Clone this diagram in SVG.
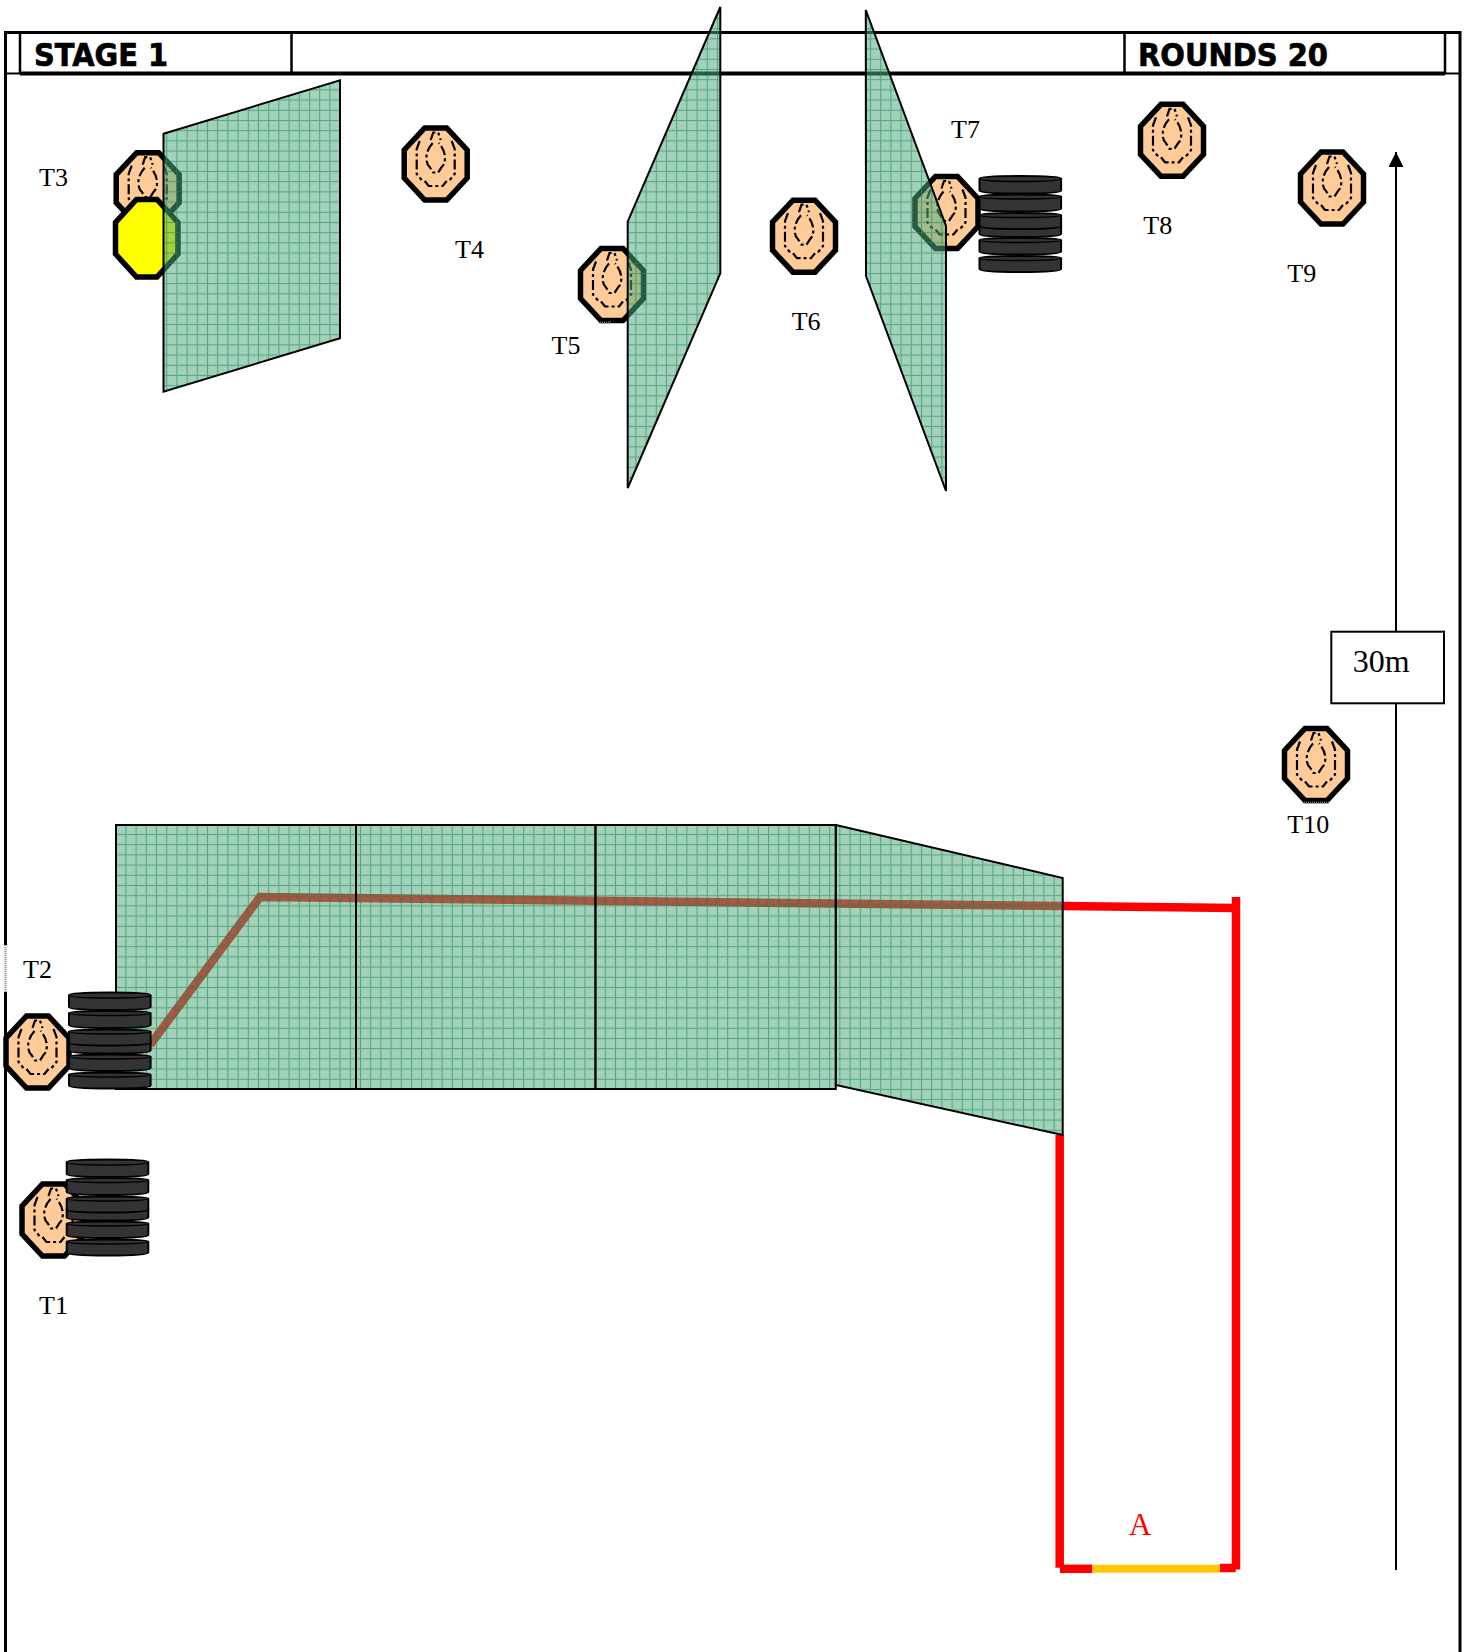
<svg xmlns="http://www.w3.org/2000/svg" width="1466" height="1652" viewBox="0 0 1466 1652">
<style>
.lbl{font-family:"Liberation Serif","Times New Roman",serif;font-size:26px;fill:#000}
.hdr{font-family:"DejaVu Sans",sans-serif;font-weight:700;font-size:32px;fill:#000;stroke:#000;stroke-width:0.7}
.panel{fill:url(#mesh);stroke:#000;stroke-width:2;stroke-linejoin:miter}
.oct{fill:#fc9;stroke:#000;stroke-width:5.5;stroke-linejoin:miter}
.dash{fill:none;stroke:#000;stroke-width:2.2;stroke-dasharray:10 3 3 3}
.tire{fill:#333;stroke:#000;stroke-width:2}
.fr{fill:none;stroke:#000}
.red{fill:none;stroke:#f00;stroke-width:8.5}
.spk{fill:none;stroke:#777;stroke-width:2;stroke-dasharray:1 1}
</style>
<defs>
<pattern id="check" width="2" height="2" patternUnits="userSpaceOnUse">
<rect width="1" height="1" fill="#fff" fill-opacity="0.12"/><rect x="1" y="1" width="1" height="1" fill="#fff" fill-opacity="0.12"/>
</pattern>
<pattern id="mesh" x="156" y="834" width="10.2" height="10.2" patternUnits="userSpaceOnUse">
<rect width="10.2" height="10.2" fill="#3ca06e" fill-opacity="0.5"/>
<rect x="2" y="2" width="7" height="7" fill="url(#check)"/>
<path d="M0.5 0V10.2M0 0.5H10.2" stroke="#2f9068" stroke-opacity="0.65" stroke-width="1" fill="none"/>
</pattern>
<g id="tgt">
<path class="oct" d="M-11-36H11L31.500-14V14L11 36H-11L-31.500 14V-14Z"/>
<path class="dash" d="M-5-24L-2.500-31.500H2.500L5-24" stroke-dasharray="none"/>
<path class="dash" d="M-3-21Q-9.300-14-9.300-6Q-9.300 0-6 3L-2.500 8.500H2.500L6 3Q9.300 0 9.300-6Q9.300-14 3-21"/>
<path class="dash" d="M-16-23L-19-15V4L-19 10L-14 16M16-23L19-15V4L19 10L14 16"/>
<path class="dash" d="M-11 17L-7 22H7L11 17" stroke-dasharray="none"/>
</g>
<g id="tires">
<path class="tire" d="M0 82Q0 80 40.800 80Q81.600 80 81.600 82V93Q81.600 96 40.800 96Q0 96 0 93Z"/>
<path class="tire" d="M0 64Q0 62 40.800 62Q81.600 62 81.600 64V75.500Q81.600 78.500 40.800 78.500Q0 78.500 0 75.500Z"/>
<path class="tire" d="M0 49Q0 47 40.800 47Q81.600 47 81.600 49V58Q81.600 61 40.800 61Q0 61 0 58Z"/>
<path class="tire" d="M0 39Q0 37 40.800 37Q81.600 37 81.600 39V50Q81.600 53 40.800 53Q0 53 0 50Z"/>
<path class="tire" d="M0 20.500Q0 18.500 40.800 18.500Q81.600 18.500 81.600 20.500V32.500Q81.600 35.500 40.800 35.500Q0 35.500 0 32.500Z"/>
<path class="tire" d="M0 2.500Q0 0 40.800 0Q81.600 0 81.600 2.500V14.500Q81.600 17.500 40.800 17.500Q0 17.500 0 14.500Z"/>
<path d="M0 2.500Q0 5.500 40.800 5.500Q81.600 5.500 81.600 2.500M0 20.500Q0 23 40.800 23Q81.600 23 81.600 20.500M0 39Q0 41.500 40.800 41.500Q81.600 41.500 81.600 39M0 64Q0 66.500 40.800 66.500Q81.600 66.500 81.600 64M0 82Q0 84.500 40.800 84.500Q81.600 84.500 81.600 82" fill="none" stroke="#000" stroke-width="1.600"/>
</g>
<marker id="tip" markerUnits="userSpaceOnUse" markerWidth="16" markerHeight="16" refX="15" refY="7.5" orient="auto">
<path d="M0 0L15 7.500L0 15Z" fill="#000"/>
</marker>
</defs>
<rect width="1466" height="1652" fill="#fff"/>

<g id="frame">
<path class="fr" stroke-width="3" d="M5.500 1652V32.500H1460V1652"/>
<path class="fr" stroke-width="4" d="M20 73.500H1445"/>
<path class="fr" stroke-width="2" d="M5.500 73.500H20M1445 73.500H1460"/>
<path class="fr" stroke-width="2.500" d="M20 32.500V73.500M291.500 32.500V73.500M1124.500 32.500V73.500M1445 32.500V73.500"/>
<path d="M5.500 945V992" stroke="#eee" stroke-width="3.500"/>
<path d="M5.500 945V992" stroke="#999" stroke-width="2" stroke-dasharray="1 1"/>
<text class="hdr" x="34" y="65.700" textLength="134" lengthAdjust="spacingAndGlyphs">STAGE 1</text>
<text class="hdr" x="1138" y="65.700" textLength="190" lengthAdjust="spacingAndGlyphs">ROUNDS 20</text>
</g>

<g id="T3"><use href="#tgt" x="147.700" y="188.700"/><text class="lbl" x="39" y="186">T3</text></g>
<g id="yellow-target"><path d="M136.500 199.500H157L178 222.500V254L157 277H136.500L115.500 254V222.500Z" fill="#ff0" stroke="#000" stroke-width="5.500"/></g>
<g id="T5"><use href="#tgt" x="612" y="284.500"/><path class="spk" d="M600 322.500H612"/><text class="lbl" x="551.500" y="353.500">T5</text></g>
<g id="T7"><use href="#tgt" x="946.500" y="212.500"/><text class="lbl" x="951" y="138">T7</text></g>

<g id="connectors">
<path class="red" d="M150 1045L260 897L1062.700 906L1236 908"/>
<path class="red" d="M1236 897V1569.500"/>
<path class="red" d="M1059.700 1135V1567.700"/>
<path class="red" d="M1060 1568.800H1092"/>
<path class="red" d="M1220 1568H1235.700"/>
<path d="M1092 1568.800H1220" fill="none" stroke="#ffc800" stroke-width="8"/>
<path d="M1396 1570V152" fill="none" stroke="#000" stroke-width="2" marker-end="url(#tip)"/>
</g>

<g id="panel-t3"><polygon class="panel" points="163.500,133.700 340,80.300 340,338.300 163.500,391.700"/></g>
<g id="panel-t5"><polygon class="panel" points="627.700,221.700 720.300,7 720.300,273.300 627.700,488"/></g>
<g id="panel-t7"><polygon class="panel" points="865.800,10 946,226 946,491 866,276"/></g>
<g id="wall">
<rect class="panel" x="116" y="825" width="240" height="264"/>
<rect class="panel" x="356" y="825" width="239.500" height="264"/>
<rect class="panel" x="595.500" y="825" width="240.300" height="264"/>
<polygon class="panel" points="835.800,825 1062.700,878 1062.700,1135 835.800,1085"/>
</g>

<g id="T1"><use href="#tgt" x="53.500" y="1220"/><text class="lbl" x="39" y="1314">T1</text></g>
<g id="T2"><use href="#tgt" x="37.500" y="1052"/><text class="lbl" x="23" y="978">T2</text></g>
<g id="T4"><use href="#tgt" x="435.700" y="164"/><text class="lbl" x="455" y="257.500">T4</text></g>
<g id="T6"><use href="#tgt" x="804" y="236.200"/><text class="lbl" x="791.700" y="330">T6</text></g>
<g id="T8"><use href="#tgt" x="1172" y="140.300"/><text class="lbl" x="1143.300" y="234">T8</text></g>
<g id="T9"><use href="#tgt" x="1332" y="188"/><text class="lbl" x="1287.300" y="281.700">T9</text></g>
<g id="T10"><use href="#tgt" x="1316" y="764.500"/><path class="spk" d="M1304 802.500H1329"/><text class="lbl" x="1287.300" y="833.300">T10</text></g>

<g id="tires-t1"><use href="#tires" x="66.700" y="1159.500"/></g>
<g id="tires-t2"><use href="#tires" x="69" y="992.500"/></g>
<g id="tires-t7"><use href="#tires" x="979.500" y="176"/></g>

<g id="label-30m"><rect x="1331.300" y="631.700" width="112.700" height="71.600" fill="#fff" stroke="#000" stroke-width="2"/>
<text x="1352.700" y="671.700" font-family="Liberation Serif, serif" font-size="32">30m</text></g>
<g id="label-A"><text x="1129" y="1535" font-family="Liberation Serif, serif" font-size="31" fill="#f00">A</text></g>
</svg>
